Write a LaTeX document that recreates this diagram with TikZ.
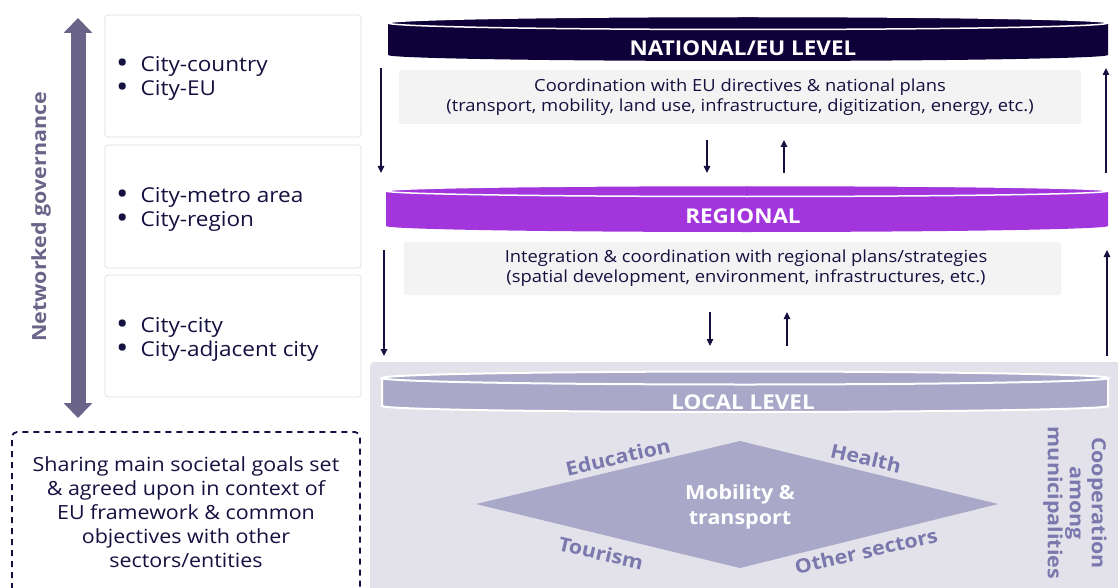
\documentclass[tikz,border=0pt]{standalone}
\usepackage{fontspec}
\setmainfont[FakeStretch=1.1]{Open Sans}
\usetikzlibrary{arrows.meta}

\definecolor{ink}{HTML}{14103F}
\definecolor{navyband}{HTML}{0E0038}
\definecolor{purpleband}{HTML}{A236DC}
\definecolor{localband}{HTML}{A9A8C9}
\definecolor{lavbg}{HTML}{E3E2EA}
\definecolor{slate}{HTML}{7B78AE}
\definecolor{govarrow}{HTML}{6B6489}
\definecolor{notebg}{HTML}{F3F3F3}
\definecolor{boxline}{HTML}{DEDEDE}

\newcommand{\dotitem}{{\fontsize{30}{24}\selectfont\raisebox{-1.5pt}{\textbullet}}}

\tikzset{
  relbox/.style={draw=boxline, line width=0.8pt, rounded corners=3pt, fill=white},
  bullettext/.style={text=ink, font=\fontsize{20.5}{24}\selectfont, anchor=west, inner sep=0pt},
  notebox/.style={fill=notebg, rounded corners=2pt},
  notetext/.style={text=ink, font=\fontsize{16.7}{19.5}\selectfont, align=center, inner sep=0pt},
  levellabel/.style={text=white, font=\bfseries\fontsize{20.4}{24}\selectfont, inner sep=0pt},
  flow/.style={draw=ink, line width=1.2pt, -{Triangle[width=6.5pt,length=7pt]}},
  sector/.style={text=slate, font=\bfseries\fontsize{19.5}{22}\selectfont, inner sep=0pt},
}

\begin{document}
\begin{tikzpicture}[x=1pt,y=-1pt]
\useasboundingbox (0,0) rectangle (1118,588);

% local-level backdrop
\fill[lavbg, rounded corners=4pt] (370,362) rectangle (1130,600);

% governance arrow and its label
\coordinate (govtop) at (78,18);
\coordinate (govbot) at (78,418);
\draw[govarrow, line width=15pt,
      {Triangle[width=28pt,length=15pt]}-{Triangle[width=28pt,length=15pt]}]
  (govtop) -- (govbot);
\node[rotate=90, text=govarrow, font=\bfseries\fontsize{19.5}{22}\selectfont, inner sep=0pt]
  (govlabel) at (41,217) {Networked governance};

% relationship boxes
\draw[relbox] (105,15) rectangle (361,137);
\draw[relbox] (105,145) rectangle (361,268);
\draw[relbox] (105,275) rectangle (361,397);
\node[bullettext] (rel1) at (116,79) {\begin{tabular}{@{}l@{\hspace{12pt}}l@{}}\dotitem & City-country\\ \dotitem & City-EU\end{tabular}};
\node[bullettext] (rel2) at (116,210) {\begin{tabular}{@{}l@{\hspace{12pt}}l@{}}\dotitem & City-metro area\\ \dotitem & City-region\end{tabular}};
\node[bullettext] (rel3) at (116,340) {\begin{tabular}{@{}l@{\hspace{12pt}}l@{}}\dotitem & City-city\\ \dotitem & City-adjacent city\end{tabular}};

% shared goals (open at the bottom)
\draw[ink, line width=1.8pt, dash pattern=on 6pt off 5pt, rounded corners=5pt]
  (12,600) -- (12,432) -- (360,432) -- (360,600);
\node[text=ink, font=\fontsize{19.5}{24}\selectfont, align=center, inner sep=0pt]
  (goals) at (186,512) {Sharing main societal goals set\\ \& agreed upon in context of\\ EU framework \& common\\ objectives with other\\ sectors/entities};

% national / EU level band
\fill[navyband] (388,23) -- (388,55) .. controls (388,58.3) and (549,61) .. (748,61)
  .. controls (947,61) and (1108,58.3) .. (1108,55) -- (1108,23) -- cycle;
\filldraw[fill=navyband, draw=white, line width=1.5pt] (748,23) ellipse [x radius=360pt, y radius=6.5pt];
\node[levellabel] (national) at (743,48) {NATIONAL/EU LEVEL};

% regional band
\fill[purpleband] (386,191) -- (386,226) .. controls (386,229.3) and (547,232) .. (747,232)
  .. controls (947,232) and (1108,229.3) .. (1108,226) -- (1108,191) -- cycle;
\filldraw[fill=purpleband, draw=white, line width=1.5pt] (747,191) ellipse [x radius=361pt, y radius=5.5pt];
\node[levellabel] (regional) at (743,216) {REGIONAL};

% local level band
\filldraw[fill=localband, draw=white, line width=2pt] (382,378) -- (382,406) .. controls (382,409.3) and (544,412) .. (745,412)
  .. controls (946,412) and (1108,409.3) .. (1108,406) -- (1108,378) -- cycle;
\filldraw[fill=localband, draw=white, line width=2pt] (745,378) ellipse [x radius=363pt, y radius=6.5pt];
\node[levellabel] (local) at (743,402) {LOCAL LEVEL};

% coordination notes
\fill[notebox] (399,70) rectangle (1081,124);
\node[notetext] (natnote) at (740,97) {Coordination with EU directives \& national plans\\ (transport, mobility, land use, infrastructure, digitization, energy, etc.)};
\fill[notebox] (404,242) rectangle (1061,295);
\node[notetext] (regnote) at (746,268) {Integration \& coordination with regional plans/strategies\\ (spatial development, environment, infrastructures, etc.)};

% flows between national and regional
\coordinate (nr1a) at (381,68);  \coordinate (nr1b) at (381,173);
\coordinate (nr2a) at (1106,173); \coordinate (nr2b) at (1106,68);
\coordinate (nr3a) at (707,140); \coordinate (nr3b) at (707,173);
\coordinate (nr4a) at (784,173); \coordinate (nr4b) at (784,140);
\draw[flow] (nr1a) -- (nr1b);
\draw[flow] (nr2a) -- (nr2b);
\draw[flow] (nr3a) -- (nr3b);
\draw[flow] (nr4a) -- (nr4b);

% flows between regional and local
\coordinate (rl1a) at (384,250); \coordinate (rl1b) at (384,356);
\coordinate (rl2a) at (1107,356); \coordinate (rl2b) at (1107,250);
\coordinate (rl3a) at (710,312); \coordinate (rl3b) at (710,346);
\coordinate (rl4a) at (787,346); \coordinate (rl4b) at (787,312);
\draw[flow] (rl1a) -- (rl1b);
\draw[flow] (rl2a) -- (rl2b);
\draw[flow] (rl3a) -- (rl3b);
\draw[flow] (rl4a) -- (rl4b);

% sectors around mobility
\fill[localband] (476,504) -- (740,441) -- (998,504) -- (740,568) -- cycle;
\node[text=white, font=\bfseries\fontsize{19.5}{25}\selectfont, align=center, inner sep=0pt]
  (mobility) at (740,507) {Mobility \&\\ transport};
\node[sector, rotate=13] (education) at (618,457) {Education};
\node[sector, rotate=-13] (health) at (866,458) {Health};
\node[sector, rotate=-13] (tourism) at (601,553) {Tourism};
\node[sector, rotate=13] (others) at (866,551) {Other sectors};
\node[sector, rotate=-90, align=center, font=\bfseries\fontsize{19.5}{22}\selectfont]
  (coop) at (1075,503) {Cooperation\\ among\\ municipalities};

\end{tikzpicture}
\end{document}
